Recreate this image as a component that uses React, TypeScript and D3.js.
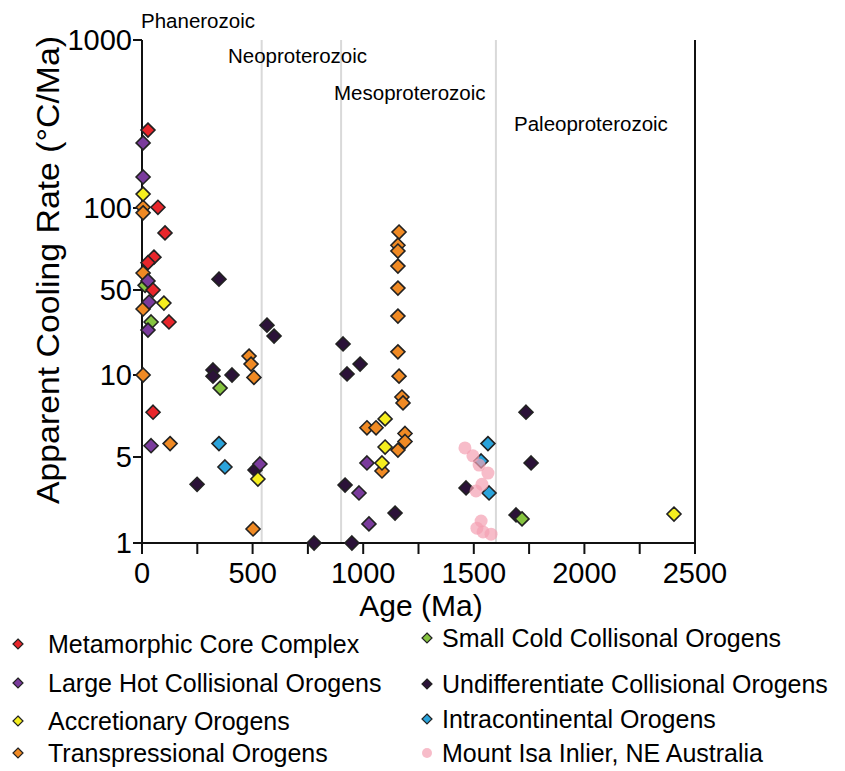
import * as d3 from "d3";

// [age Ma, apparent cooling rate °C/Ma]
const metamorphicCore: [number, number][] = [
  [27, 291], [72, 101], [104, 81], [54, 66], [27, 63], [50, 50], [122, 27.3], [50, 7.3],
];
const largeHot: [number, number][] = [
  [5, 244], [5, 153], [27, 54], [32, 39.8], [27, 23.4], [41, 5.5],
  [533, 4.39], [1017, 4.47], [981, 2.55], [1026, 1.43],
];
const accretionary: [number, number][] = [
  [5, 121], [99, 39], [524, 3.31], [1099, 6.9], [1099, 5.44], [1085, 4.47], [2405, 1.72],
];
const transpressional: [number, number][] = [
  [5, 101], [5, 96], [5, 57.7], [5, 34.9], [5, 10], [127, 5.6],
  [484, 14.3], [493, 12.3], [506, 9.8], [502, 1.3],
  [1162, 81.6], [1157, 73], [1157, 69.5], [1157, 61.2], [1157, 50.8], [1157, 30.5],
  [1157, 15.5], [1162, 9.9], [1175, 8.3], [1180, 7.9], [1017, 6.4], [1058, 6.4],
  [1189, 6.1], [1189, 5.7], [1157, 5.3], [1085, 3.85],
];
const smallCold: [number, number][] = [
  [14, 52], [41, 27.3], [353, 8.95], [1718, 1.57],
];
const undifferentiated: [number, number][] = [
  [348, 54.8], [321, 11], [321, 9.9], [407, 10], [565, 25.7], [597, 20.9],
  [249, 3.0], [511, 3.92], [909, 18], [986, 12.3], [927, 10.2], [918, 2.96],
  [1144, 1.75], [778, 1], [949, 1], [1465, 2.8], [1736, 7.3], [1759, 4.47], [1691, 1.69],
];
const intracontinental: [number, number][] = [
  [348, 5.6], [375, 4.15], [1564, 5.6], [1533, 4.64], [1569, 2.55],
];
const mountIsa: [number, number][] = [
  [1460, 5.4], [1496, 5.05], [1524, 4.3], [1564, 3.7], [1537, 3.0],
  [1510, 2.65], [1533, 1.51], [1514, 1.32], [1542, 1.23], [1578, 1.18],
];

const xTickLabels = [0, 500, 1000, 1500, 2000, 2500];
const xMinorTicks = [250, 750, 1250, 1750, 2250];
const yTickLabels = [1, 5, 10, 50, 100, 1000];
const boundaries = [541, 900, 1600];
const eras = ["Phanerozoic", "Neoproterozoic", "Mesoproterozoic", "Paleoproterozoic"];

const series = [
  { name: "Undifferentiate Collisional Orogens", data: undifferentiated, color: "#2b1238" },
  { name: "Transpressional Orogens", data: transpressional, color: "#f08a24" },
  { name: "Intracontinental Orogens", data: intracontinental, color: "#2aa3db" },
  { name: "Small Cold Collisonal Orogens", data: smallCold, color: "#86c440" },
  { name: "Large Hot Collisional Orogens", data: largeHot, color: "#7a3b9c" },
  { name: "Accretionary Orogens", data: accretionary, color: "#f5ee1f" },
  { name: "Metamorphic Core Complex", data: metamorphicCore, color: "#e8262b" },
];
const pink = "#f4a0b2";

const legendCol1 = ["Metamorphic Core Complex", "Large Hot Collisional Orogens", "Accretionary Orogens", "Transpressional Orogens"];
const legendCol2 = ["Small Cold Collisonal Orogens", "Undifferentiate Collisional Orogens", "Intracontinental Orogens", "Mount Isa Inlier, NE Australia"];

const FONT = "'Liberation Sans', Arial, sans-serif";

export default function App() {
  const x = d3.scaleLinear().domain([0, 2500]).range([142, 695]);
  // the printed axis is log per decade, with 5 and 50 sitting mid-decade
  const yl = d3.scaleLinear()
    .domain(yTickLabels.map(Math.log10))
    .range([543, 457, 375, 290, 208, 40]);
  const y = (v: number) => yl(Math.log10(v));
  const top = 40, bottom = 543;

  const diamond = (cx: number, cy: number, r: number) =>
    `M${cx},${cy - r}L${cx + r},${cy}L${cx},${cy + r}L${cx - r},${cy}Z`;

  const colorOf = (name: string) =>
    series.find(s => s.name === name)?.color ?? pink;

  const legendRowsA = [644, 683, 721, 753];
  const legendRowsB = [638, 684, 719, 753];

  return (
    <svg width={845} height={771} style={{ position: "absolute", left: 0, top: 0, background: "#fff" }}
      fontFamily={FONT}>
      {boundaries.map(b => (
        <line key={b} x1={x(b)} x2={x(b)} y1={top} y2={bottom} stroke="#d9d9d9" strokeWidth={2} />
      ))}
      <line x1={x(2500)} x2={x(2500)} y1={top} y2={bottom} stroke="#111" strokeWidth={2} />

      {/* axes */}
      <line x1={x(0)} x2={x(0)} y1={top} y2={bottom} stroke="#111" strokeWidth={2} />
      <line x1={x(0) - 9} x2={x(2500)} y1={bottom} y2={bottom} stroke="#111" strokeWidth={2} />
      {yTickLabels.map(t => (
        <g key={t}>
          <line x1={x(0) - 9} x2={x(0)} y1={y(t)} y2={y(t)} stroke="#111" strokeWidth={2} />
          <text x={x(0) - 10} y={y(t)} dy="0.36em" textAnchor="end" fontSize={29}>{t}</text>
        </g>
      ))}
      {xTickLabels.concat(xMinorTicks).map(t => (
        <line key={t} x1={x(t)} x2={x(t)} y1={bottom} y2={bottom + 11} stroke="#111" strokeWidth={2} />
      ))}
      {xTickLabels.map(t => (
        <text key={t} x={x(t)} y={583} textAnchor="middle" fontSize={29}>{t}</text>
      ))}
      <text x={421} y={616} textAnchor="middle" fontSize={30}>Age (Ma)</text>
      <text transform="translate(47,270) rotate(-90)" textAnchor="middle" dy="0.36em" fontSize={32}
        textLength={468} lengthAdjust="spacingAndGlyphs">Apparent Cooling Rate (°C/Ma)</text>

      {eras.map((e, i) => (
        <text key={e} x={[141, 228, 334, 514][i]} y={[28, 63, 100, 131][i]} fontSize={20.5}>{e}</text>
      ))}

      {series.map(s => (
        <g key={s.name}>
          {s.data.map((d, i) => (
            <path key={i} d={diamond(x(d[0]), y(d[1]), 7)} fill={s.color} stroke="#222" strokeWidth={1.6} />
          ))}
        </g>
      ))}
      {mountIsa.map((d, i) => (
        <circle key={i} cx={x(d[0])} cy={y(d[1])} r={6.5} fill={pink} opacity={0.7} />
      ))}

      {/* legend */}
      {legendCol1.map((n, i) => (
        <g key={n}>
          <path d={diamond(18, legendRowsA[i], 5)} fill={colorOf(n)} stroke="#222" strokeWidth={1.2} />
          <text x={48} y={legendRowsA[i]} dy="0.36em" fontSize={25}>{n}</text>
        </g>
      ))}
      {legendCol2.map((n, i) => (
        <g key={n}>
          {n.startsWith("Mount")
            ? <circle cx={427} cy={legendRowsB[i]} r={5} fill={pink} opacity={0.7} />
            : <path d={diamond(427, legendRowsB[i], 5)} fill={colorOf(n)} stroke="#222" strokeWidth={1.2} />}
          <text x={442} y={legendRowsB[i]} dy="0.36em" fontSize={25}>{n}</text>
        </g>
      ))}
    </svg>
  );
}
